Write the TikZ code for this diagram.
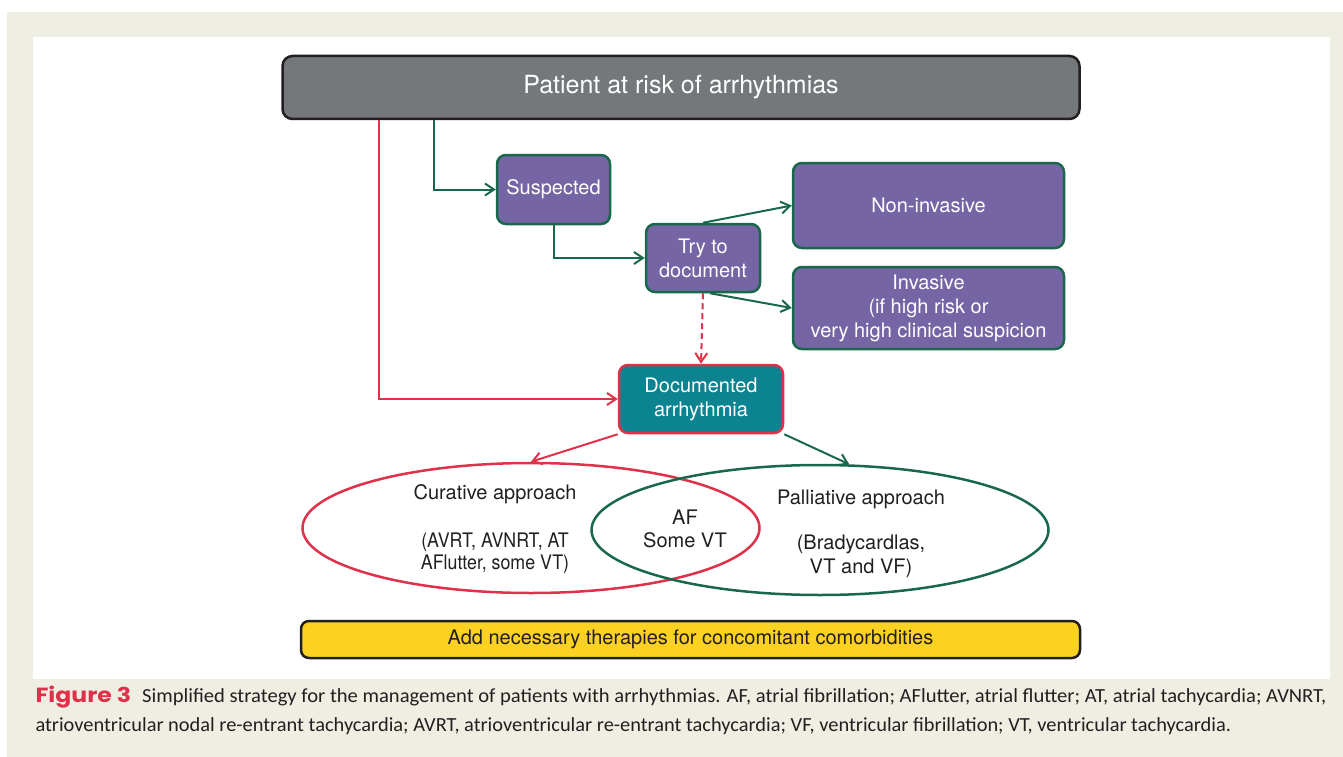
\documentclass[tikz,border=0pt]{standalone}
\usepackage{fontspec}
\setmainfont{TeX Gyre Heros}
\newfontfamily\capfont{Carlito}
\newfontfamily\figfont{Poppins}
\usetikzlibrary{arrows.meta,shapes.geometric,positioning}

\definecolor{cream}{RGB}{239,238,227}
\definecolor{boxgray}{RGB}{116,120,122}
\definecolor{dark}{RGB}{35,31,32}
\definecolor{purp}{RGB}{117,101,165}
\definecolor{dgreen}{RGB}{26,104,76}
\definecolor{teal}{RGB}{11,131,144}
\definecolor{rred}{RGB}{224,49,75}
\definecolor{yell}{RGB}{252,210,34}

\begin{document}
\begin{tikzpicture}[x=1pt,y=-1pt,
  every node/.style={font=\fontsize{20}{24}\selectfont, align=center, text=dark},
  pbox/.style={draw=dgreen, line width=2.5pt, fill=purp, text=white, rounded corners=9pt, inner sep=2pt},
  garrow/.style={draw=dgreen, line width=2pt, -{Straight Barb[length=9pt,width=12pt]}},
  rarrow/.style={draw=rred, line width=2pt, -{Straight Barb[length=9pt,width=12pt]}},
  oval/.style={ellipse, line width=2.5pt, minimum width=457pt, minimum height=130pt, inner sep=0pt}]
  % page and panel
  \useasboundingbox (0,0) rectangle (1343,757);
  \fill[cream] (7,12) rectangle (1343,757);
  \fill[white] (33,37) rectangle (1330,679);

  % boxes
  \node[draw=dark, line width=2.5pt, fill=boxgray, text=white, rounded corners=10pt,
        minimum width=797pt, minimum height=63pt, font=\fontsize{25}{30}\selectfont]
        (patient) at (681,87.5) {Patient at risk of arrhythmias};
  \node[pbox, minimum width=113pt, minimum height=69pt] (suspected) at (553.5,189.5) {Suspected};
  \node[pbox, minimum width=114pt, minimum height=68pt] (try) at (703,258) {Try to\\document};
  \node[pbox, minimum width=271pt, minimum height=85pt] (noninv) at (928.5,205.5) {Non-invasive};
  \node[pbox, minimum width=271pt, minimum height=82pt] (inv) at (928.5,308)
        {Invasive\\(if high risk or\\very high clinical suspicion};
  \node[pbox, draw=rred, fill=teal, minimum width=164pt, minimum height=68pt] (documented) at (701,399)
        {Documented\\arrhythmia};

  % the two approaches
  \node[oval, draw=rred] (curative) at (531,528) {};
  \node[oval, draw=dgreen] (palliative) at (820,530) {};
  \node (curtitle) at (495,494) {Curative approach};
  \node[font=\fontsize{20}{22}\selectfont\addfontfeature{FakeStretch=0.89}] (curlist) at (495,553)
        {(AVRT, AVNRT, AT\\AFlutter, some VT)};
  \node[font=\fontsize{20}{23}\selectfont] (both) at (685,529) {AF\\Some VT};
  \node (paltitle) at (861,499) {Palliative approach};
  \node (pallist) at (861,556) {(Bradycardlas,\\VT and VF)};

  \node[draw=dark, line width=2.5pt, fill=yell, rounded corners=8pt,
        minimum width=779pt, minimum height=37pt] (therapies) at (690.5,639.5)
        {Add necessary therapies for concomitant comorbidities};

  % connectors
  \draw[rarrow] ([xshift=98pt]patient.south west) |- (documented.west);
  \draw[garrow] ([xshift=153pt]patient.south west) |- (suspected.west);
  \draw[garrow] (suspected.south) |- (try.west);
  \draw[garrow] (try.north) -- (noninv.west);
  \draw[garrow] ([xshift=7pt]try.south) -- (inv.west);
  \draw[rarrow, dash pattern=on 6pt off 4pt] (try.south) -- (documented.north);
  \draw[rarrow] (documented.south west) -- (curative.north);
  \draw[garrow] (documented.south east) -- (palliative.66);

  % caption
  \node[anchor=west, align=left, text=dark, font=\capfont\fontsize{20}{29}\selectfont]
        (caption) at (32,710.5)
        {{\figfont\fontsize{20.5}{29}\selectfont\bfseries\addfontfeature{FakeStretch=1.15}\color{rred}Figure 3}\hspace{11pt}{\addfontfeature{FakeStretch=1.03}Simplified strategy for the management of patients with arrhythmias. AF, atrial fibrillation; AFlutter, atrial flutter; AT, atrial tachycardia; AVNRT,}\\
        {\addfontfeature{FakeStretch=1.02}atrioventricular nodal re-entrant tachycardia; AVRT, atrioventricular re-entrant tachycardia; VF, ventricular fibrillation; VT, ventricular tachycardia.}};
\end{tikzpicture}
\end{document}
